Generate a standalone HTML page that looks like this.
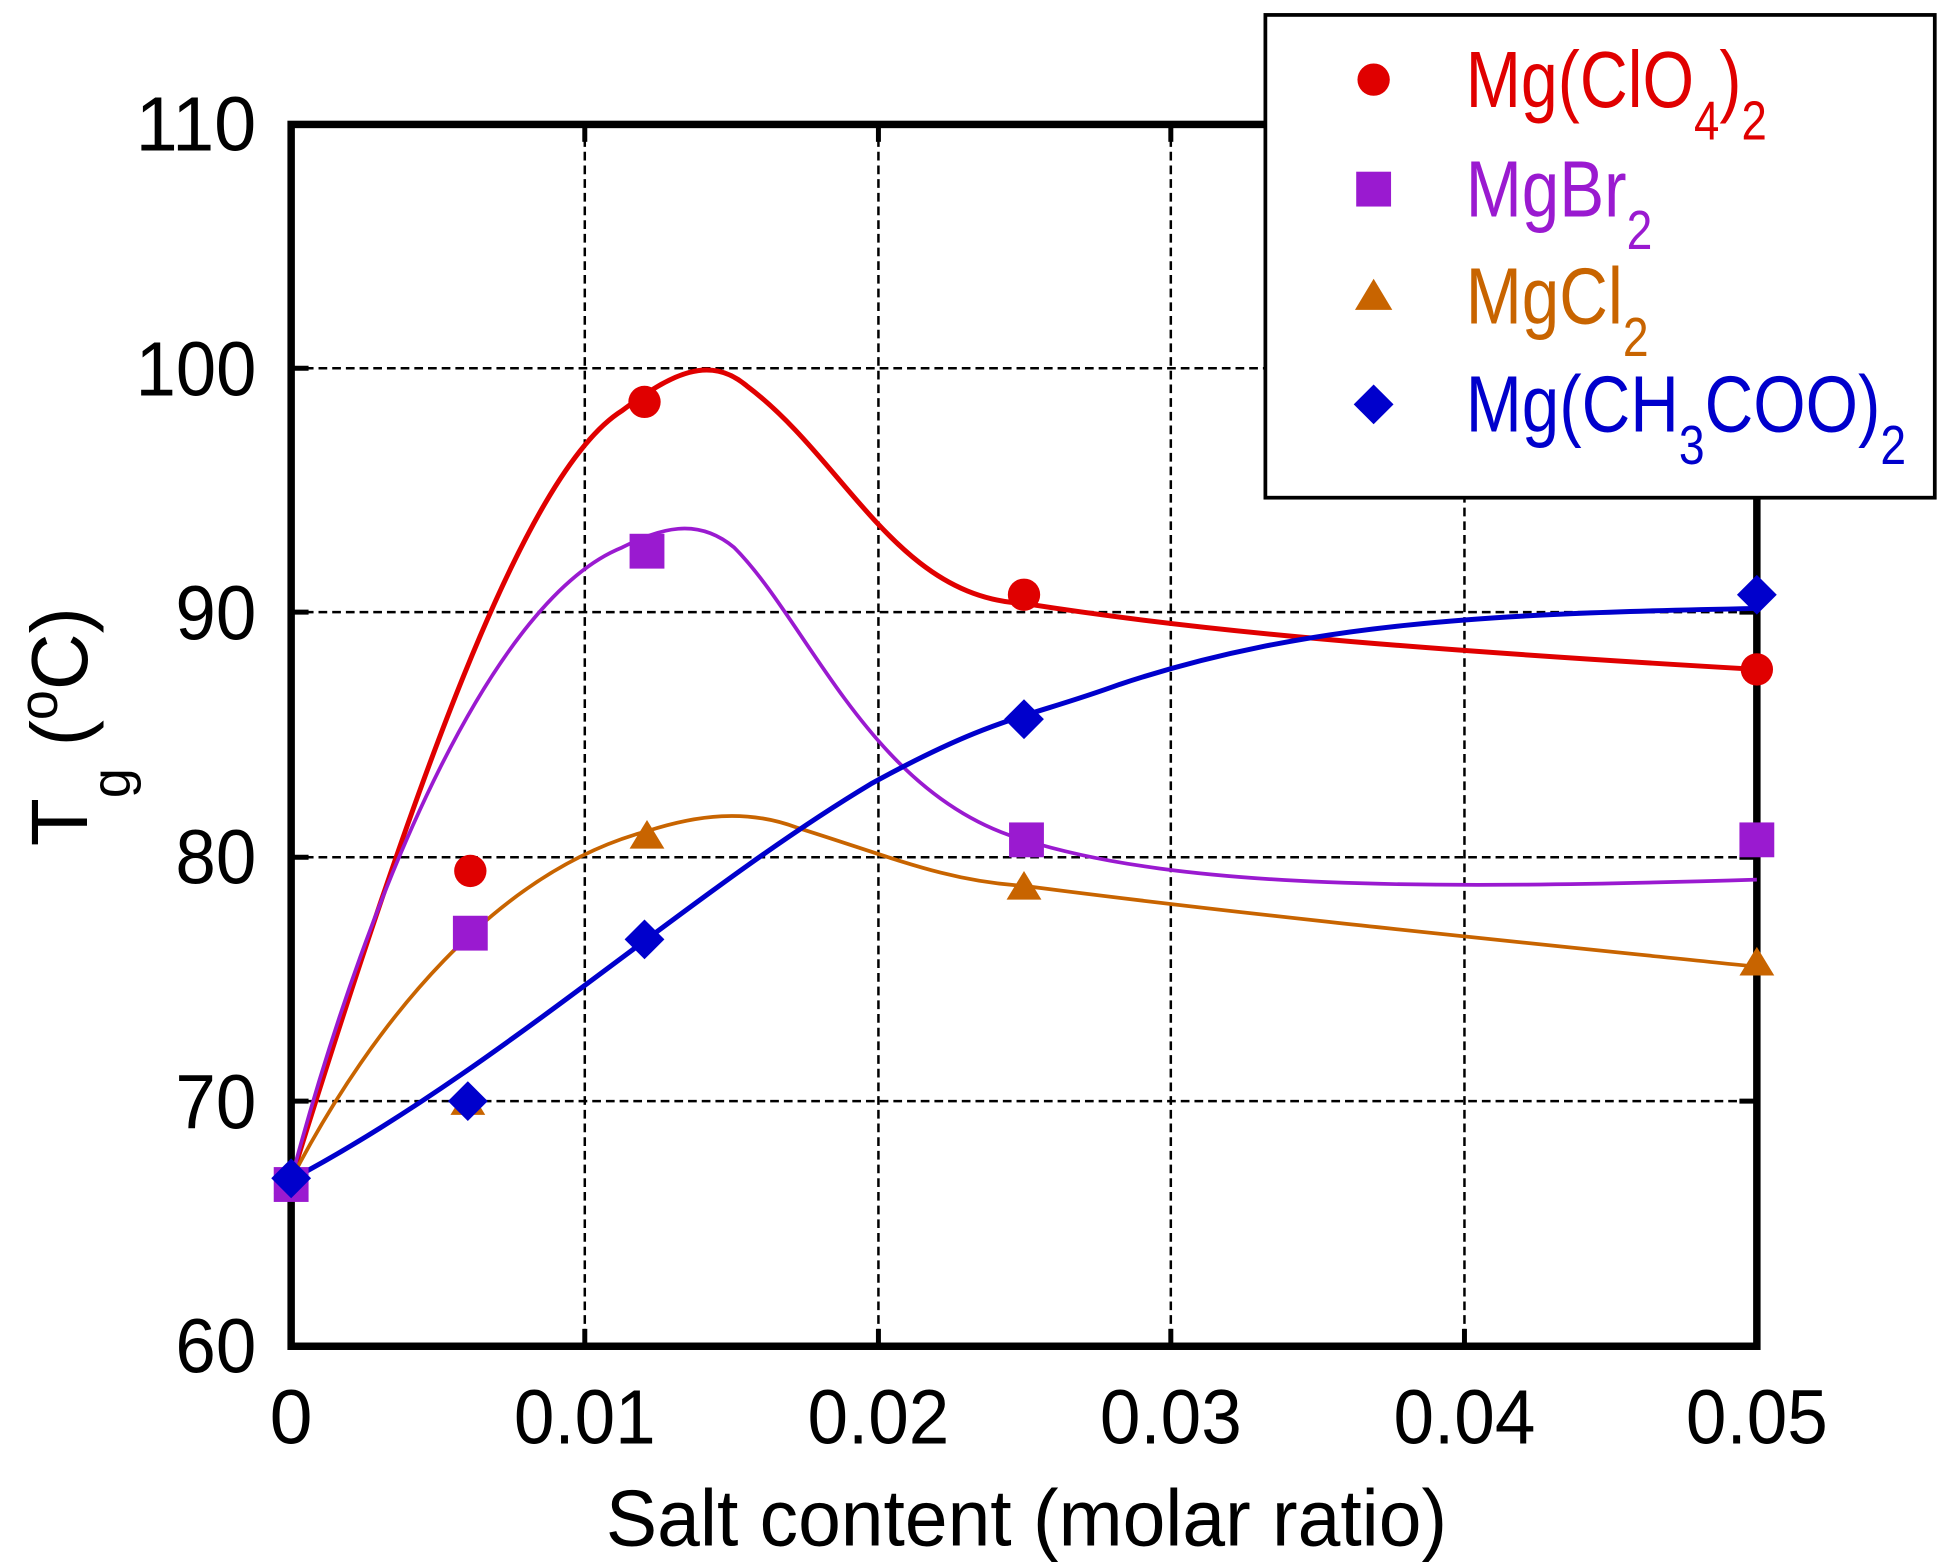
<!DOCTYPE html>
<html><head><meta charset="utf-8"><style>html,body{margin:0;padding:0;background:#fff}svg{display:block}</style></head>
<body>
<svg width="1941" height="1564" viewBox="0 0 1560 1257" preserveAspectRatio="none" xmlns="http://www.w3.org/2000/svg" font-family="Liberation Sans, sans-serif">
<rect width="1560" height="1257" fill="#fff"/>
<g stroke="#000" stroke-width="2" stroke-dasharray="7,4" fill="none">
<line x1="470" y1="100" x2="470" y2="1082"/><line x1="706" y1="100" x2="706" y2="1082"/>
<line x1="941" y1="100" x2="941" y2="1082"/><line x1="1177" y1="100" x2="1177" y2="1082"/>
<line x1="234" y1="296" x2="1412" y2="296"/><line x1="234" y1="492" x2="1412" y2="492"/>
<line x1="234" y1="689" x2="1412" y2="689"/><line x1="234" y1="885" x2="1412" y2="885"/>
</g>
<g stroke="#000" stroke-width="4">
<line x1="470" y1="1082" x2="470" y2="1068"/><line x1="706" y1="1082" x2="706" y2="1068"/><line x1="941" y1="1082" x2="941" y2="1068"/><line x1="1177" y1="1082" x2="1177" y2="1068"/>
<line x1="470" y1="100" x2="470" y2="114"/><line x1="706" y1="100" x2="706" y2="114"/><line x1="941" y1="100" x2="941" y2="114"/><line x1="1177" y1="100" x2="1177" y2="114"/>
<line x1="234" y1="296" x2="248" y2="296"/><line x1="234" y1="492" x2="248" y2="492"/><line x1="234" y1="689" x2="248" y2="689"/><line x1="234" y1="885" x2="248" y2="885"/>
<line x1="1412" y1="296" x2="1398" y2="296"/><line x1="1412" y1="492" x2="1398" y2="492"/><line x1="1412" y1="689" x2="1398" y2="689"/><line x1="1412" y1="885" x2="1398" y2="885"/>
</g>
<rect x="234" y="100" width="1178" height="982" fill="none" stroke="#000" stroke-width="6"/>
<g fill="none">
<path d="M234,948 C330,640 420,380 500,330 C540,300 570,285 600,310 C680,370 720,480 823,485 C950,505 1100,520 1412,538" stroke="#e00000" stroke-width="4"/>
<path d="M234,948 C300,700 400,480 500,440 C530,425 560,415 590,440 C650,500 700,640 823,675 C950,715 1150,715 1412,707" stroke="#9a1ad0" stroke-width="3"/>
<path d="M234,948 C300,820 400,700 520,668 C560,655 600,650 640,665 C720,690 760,708 823,712 C1000,735 1200,755 1412,777" stroke="#c86400" stroke-width="3"/>
<path d="M234,948 C400,860 550,720 700,630 C800,575 823,578 900,550 C1050,500 1200,493 1412,489" stroke="#0000cc" stroke-width="4"/>
</g>
<g fill="#c86400">
<path d="M234,936 l14,23 h-28z"/><path d="M376,873 l14,23 h-28z"/><path d="M520,659 l14,23 h-28z"/><path d="M823,700 l14,23 h-28z"/><path d="M1412,761 l14,23 h-28z"/>
</g>
<g fill="#9a1ad0">
<rect x="220" y="938" width="28" height="28"/><rect x="364" y="736" width="28" height="28"/><rect x="506" y="429" width="28" height="28"/><rect x="811" y="661" width="28" height="28"/><rect x="1398" y="661" width="28" height="28"/>
</g>
<g fill="#e00000">
<circle cx="378" cy="700" r="13"/><circle cx="518" cy="323" r="13"/><circle cx="823" cy="478" r="13"/><circle cx="1412" cy="538" r="13"/>
</g>
<g fill="#0000cc">
<path d="M234,931 l16,16 l-16,16 l-16,-16z"/><path d="M376,869 l16,16 l-16,16 l-16,-16z"/><path d="M518,739 l16,16 l-16,16 l-16,-16z"/><path d="M823,562 l16,16 l-16,16 l-16,-16z"/><path d="M1412,462 l16,16 l-16,16 l-16,-16z"/>
</g>
<rect x="1017" y="12" width="538" height="388" fill="#fff" stroke="#000" stroke-width="3"/>
<circle cx="1104" cy="64" r="13" fill="#e00000"/>
<rect x="1090" y="138" width="28" height="28" fill="#9a1ad0"/>
<path d="M1104,224 l15,25 h-30z" fill="#c86400"/>
<path d="M1104,309 l16,16 l-16,16 l-16,-16z" fill="#0000cc"/>
<g font-size="64">
<text x="1178" y="86" fill="#e00000" textLength="242" lengthAdjust="spacingAndGlyphs">Mg(ClO<tspan font-size="44" dy="26">4</tspan><tspan dy="-26">)</tspan><tspan font-size="44" dy="26">2</tspan></text>
<text x="1178" y="174" fill="#9a1ad0" textLength="150" lengthAdjust="spacingAndGlyphs">MgBr<tspan font-size="44" dy="26">2</tspan></text>
<text x="1178" y="260" fill="#c86400" textLength="147" lengthAdjust="spacingAndGlyphs">MgCl<tspan font-size="44" dy="26">2</tspan></text>
<text x="1178" y="347" fill="#0000cc" textLength="354" lengthAdjust="spacingAndGlyphs">Mg(CH<tspan font-size="44" dy="26">3</tspan><tspan dy="-26">COO)</tspan><tspan font-size="44" dy="26">2</tspan></text>
</g>
<g font-size="62" text-anchor="end">
<text x="206" y="1103" textLength="65" lengthAdjust="spacingAndGlyphs">60</text><text x="206" y="907" textLength="65" lengthAdjust="spacingAndGlyphs">70</text><text x="206" y="710" textLength="65" lengthAdjust="spacingAndGlyphs">80</text><text x="206" y="514" textLength="65" lengthAdjust="spacingAndGlyphs">90</text><text x="206" y="318" textLength="97" lengthAdjust="spacingAndGlyphs">100</text><text x="206" y="121" textLength="97" lengthAdjust="spacingAndGlyphs">110</text>
</g>
<g font-size="62" text-anchor="middle">
<text x="234" y="1160">0</text><text x="470" y="1160" textLength="114" lengthAdjust="spacingAndGlyphs">0.01</text><text x="706" y="1160" textLength="114" lengthAdjust="spacingAndGlyphs">0.02</text><text x="941" y="1160" textLength="114" lengthAdjust="spacingAndGlyphs">0.03</text><text x="1177" y="1160" textLength="114" lengthAdjust="spacingAndGlyphs">0.04</text><text x="1412" y="1160" textLength="114" lengthAdjust="spacingAndGlyphs">0.05</text>
</g>
<text x="825" y="1242" font-size="64" text-anchor="middle" textLength="676" lengthAdjust="spacingAndGlyphs">Salt content (molar ratio)</text>
<text transform="translate(70,680) rotate(-90)" font-size="64" textLength="192" lengthAdjust="spacingAndGlyphs">T<tspan font-size="44" dy="34">g</tspan><tspan dy="-34"> (</tspan><tspan font-size="44" dy="-24">o</tspan><tspan dy="24">C)</tspan></text>
</svg>
</body></html>
